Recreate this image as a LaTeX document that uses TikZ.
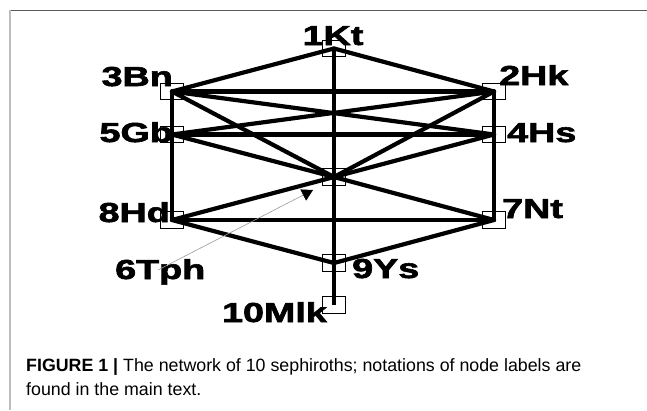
\documentclass[tikz,border=0pt]{standalone}
\usepackage{fontspec}
\setmainfont{Liberation Sans}
\newfontface\tagfont{Liberation Sans Bold}[FakeBold=2]
\usetikzlibrary{arrows.meta}
\definecolor{rulegray}{HTML}{5A5A5A}
\definecolor{sidegray}{HTML}{BDBDBD}
\definecolor{pointergray}{HTML}{9A9A9A}
\newcommand{\widetag}[1]{\scalebox{1.37}[1]{#1}}
\begin{document}
\begin{tikzpicture}[x=1pt,y=-1pt,
  vertex/.style={draw, line width=0.9pt, minimum width=23.5pt, minimum height=16.5pt, inner sep=0pt},
  link/.style={line width=4.2pt, line cap=round},
  spine/.style={line width=3.5pt},
  tag/.style={inner sep=0pt, font=\fontsize{27.5}{27.5}\tagfont},
  caption/.style={inner sep=0pt, anchor=base west, font=\fontsize{17.8}{20}\selectfont}
]
\useasboundingbox (0,0) rectangle (647,410);
\fill[white] (0,0) rectangle (647,410);

% panel frame
\draw[rulegray, line width=1.3pt] (9,10.5) -- (647,10.5);
\draw[sidegray, line width=2pt] (9.7,10) -- (9.7,410);

% the ten vertices
\node[vertex] (n1)  at (334,48.5) {};
\node[vertex] (n2)  at (494,91.5) {};
\node[vertex] (n3)  at (172,91.5) {};
\node[vertex] (n4)  at (494,134.5) {};
\node[vertex] (n5)  at (172,134.5) {};
\node[vertex] (n6)  at (334,177) {};
\node[vertex] (n7)  at (494,220) {};
\node[vertex] (n8)  at (172,220) {};
\node[vertex] (n9)  at (334,263) {};
\node[vertex] (n10) at (334,305) {};

% paths between the vertices
\draw[spine] (n1.center) -- (n10.center);
\draw[spine] (n3.center) -- (n8.center);
\draw[spine] (n2.center) -- (n7.center);
\foreach \a/\b in {n1/n3, n1/n2, n3/n2, n3/n4, n5/n2, n5/n4,
                   n3/n6, n2/n6, n5/n6, n4/n6, n8/n6, n7/n6,
                   n8/n7, n8/n9, n7/n9}
  \draw[link] (\a.center) -- (\b.center);

% vertex labels
\node[tag, anchor=base]      (t1)  at (333,45)  {\widetag{1Kt}};
\node[tag, anchor=base west] (t2)  at (499,85)  {\widetag{2Hk}};
\node[tag, anchor=base east] (t3)  at (173,86)  {\widetag{3Bn}};
\node[tag, anchor=base west] (t4)  at (507,142) {\widetag{4Hs}};
\node[tag, anchor=base east] (t5)  at (173,142) {\widetag{5Gb}};
\node[tag, anchor=base west] (t6)  at (115,279) {\widetag{6Tph}};
\node[tag, anchor=base west] (t7)  at (502,218) {\widetag{7Nt}};
\node[tag, anchor=base east] (t8)  at (170,222) {\widetag{8Hd}};
\node[tag, anchor=base west] (t9)  at (352,278) {\widetag{9Ys}};
\node[tag, anchor=base east] (t10) at (327,322) {\widetag{10Mlk}};

% pointer from the 6Tph label to the central vertex
\coordinate (ptail) at (158,270);
\coordinate (phead) at (313,190);
\draw[pointergray, line width=0.6pt, -{Triangle[length=11pt, width=12.5pt, black]}] (ptail) -- (phead);

% caption
\node[caption] (cap1) at (26,371) {\textbf{FIGURE 1 |} The network of 10 sephiroths; notations of node labels are};
\node[caption] (cap2) at (26,395) {found in the main text.};
\end{tikzpicture}
\end{document}
